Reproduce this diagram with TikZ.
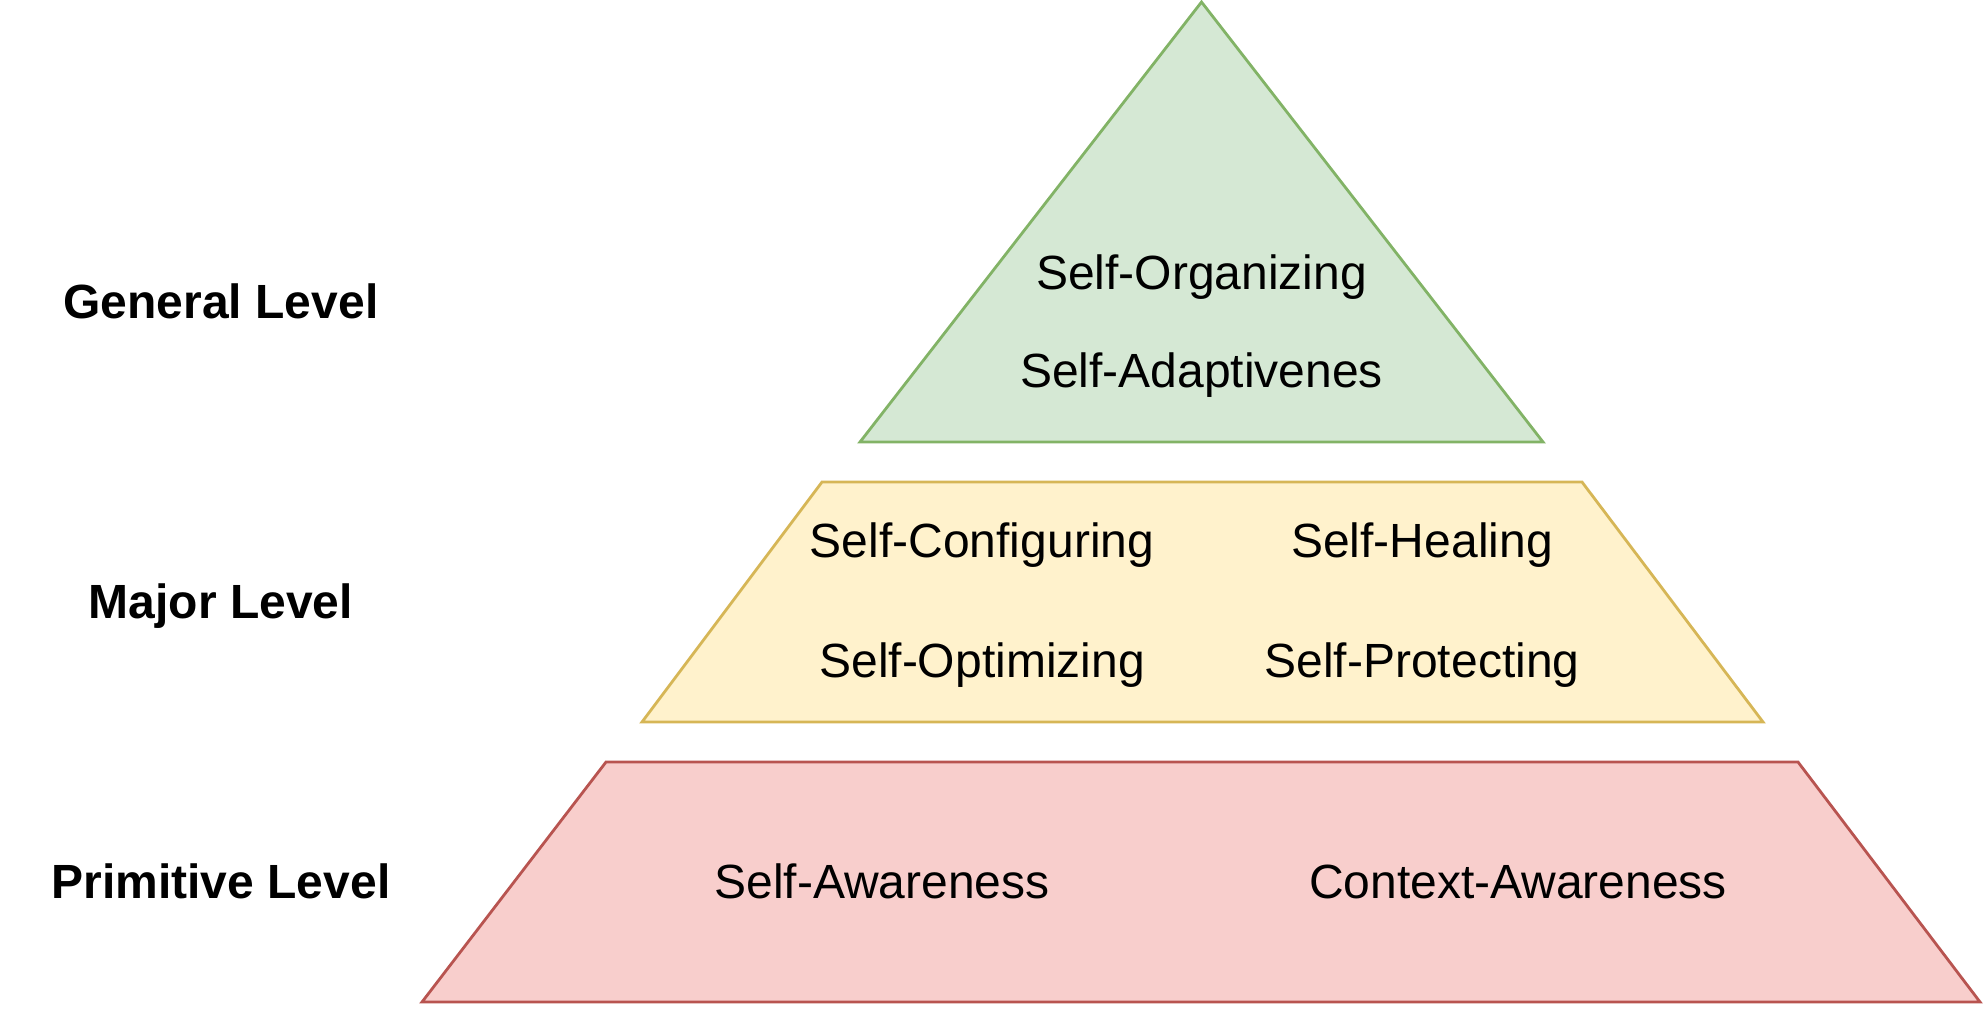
\documentclass[tikz,border=0pt]{standalone}
\usepackage{fontspec}
\setmainfont{Liberation Sans}
\definecolor{gfill}{HTML}{D5E8D4}
\definecolor{gline}{HTML}{82B366}
\definecolor{yfill}{HTML}{FFF2CC}
\definecolor{yline}{HTML}{D6B656}
\definecolor{rfill}{HTML}{F8CECC}
\definecolor{rline}{HTML}{B85450}
\tikzset{
  layer/.style={line width=1.4pt, line join=miter},
  itemtext/.style={anchor=base, inner sep=0pt, font=\fontsize{24pt}{28pt}\selectfont},
  leveltext/.style={anchor=base, inner sep=0pt, font=\fontsize{24pt}{28pt}\selectfont\bfseries}
}
\begin{document}
\begin{tikzpicture}[x=0.5pt, y=-0.5pt]
\useasboundingbox (0,0) rectangle (1984,1008);
% layers
\draw[layer, fill=gfill, draw=gline] (1201.5,2) -- (1543,442) -- (860,442) -- cycle;
\draw[layer, fill=yfill, draw=yline] (822,482) -- (1582,482) -- (1763,722) -- (642,722) -- cycle;
\draw[layer, fill=rfill, draw=rline] (606,762) -- (1798,762) -- (1980,1002) -- (422,1002) -- cycle;
% items
\node[itemtext] (org) at (1201.5,289) {Self-Organizing};
\node[itemtext] (ada) at (1201.5,387) {Self-Adaptivenes};
\node[itemtext] (cfg) at (982,557) {Self-Configuring};
\node[itemtext] (heal) at (1422,557) {Self-Healing};
\node[itemtext] (opt) at (982,677) {Self-Optimizing};
\node[itemtext] (prot) at (1422,677) {Self-Protecting};
\node[itemtext] (saw) at (882,898) {Self-Awareness};
\node[itemtext] (caw) at (1518,898) {Context-Awareness};
% level labels
\node[leveltext] (gen) at (221,318) {General Level};
\node[leveltext] (maj) at (221,618) {Major Level};
\node[leveltext] (prim) at (221,898) {Primitive Level};
\end{tikzpicture}
\end{document}
